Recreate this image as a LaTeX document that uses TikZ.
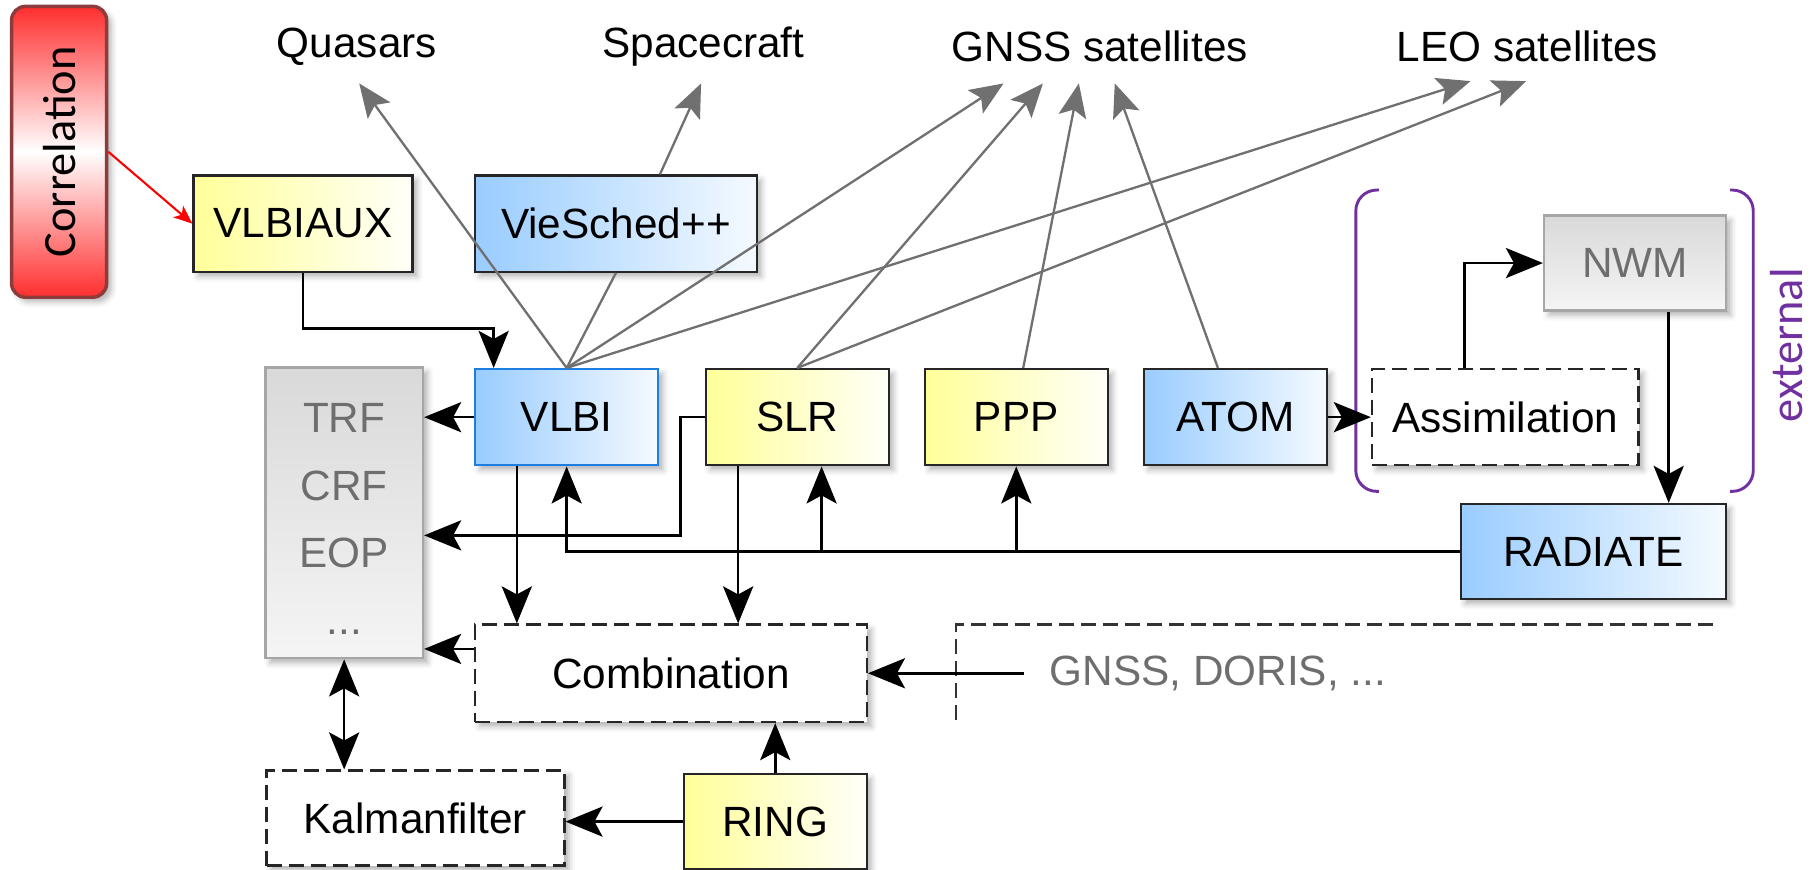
\documentclass[tikz,border=0pt]{standalone}
\usepackage{fontspec}
\setmainfont{Liberation Sans}
\newfontfamily\corrfont{Carlito}
\usetikzlibrary{arrows.meta,shadows.blur}
\definecolor{ylw}{HTML}{FFFF99}
\definecolor{blu}{HTML}{99CCFF}
\definecolor{vlbiedge}{HTML}{1E7DE0}
\definecolor{pur}{HTML}{7030A0}
\definecolor{raygray}{HTML}{707070}
\definecolor{txtgray}{HTML}{6E6E6E}
\definecolor{corrred}{HTML}{FF2E2E}
\definecolor{corredge}{HTML}{8E3B3B}
\tikzset{
 box/.style={draw=black!85,line width=2pt,minimum width=158pt,minimum height=83pt,inner sep=0pt,
  blur shadow={shadow xshift=4pt,shadow yshift=-4pt,shadow blur radius=5pt,shadow opacity=30}},
 ybox/.style={box,left color=ylw,right color=ylw!6},
 bbox/.style={box,left color=blu,right color=blu!10},
 gbox/.style={box,draw=gray!70,top color=gray!30,bottom color=gray!8,text=txtgray},
 dbox/.style={box,dash pattern=on 13pt off 6pt,fill=white},
 corrbox/.style={rotate=90,draw=corredge,line width=3pt,rounded corners=12pt,minimum width=251pt,minimum height=82pt,
  top color=corrred,bottom color=corrred,middle color=white,font=\corrfont\fontsize{40}{48}\selectfont,
  blur shadow={shadow xshift=4pt,shadow yshift=-4pt,shadow blur radius=5pt,shadow opacity=30}},
 link/.style={->,line width=2.2pt},
 ray/.style={-{Stealth[length=29pt,width=24pt,inset=6pt]},raygray,line width=2pt},
}
\begin{document}
\begin{tikzpicture}[x=1pt,y=-1pt,font=\fontsize{36.5}{42}\selectfont,>={Stealth[length=32pt,width=26pt,inset=7pt]}]
\useasboundingbox (0,0) rectangle (1568,750);
% targets
\node (quasars) at (308,40) {Quasars};
\node (craft) at (607,40) {Spacecraft};
\node (gnss) at (949,40) {GNSS satellites};
\node (leo) at (1318,40) {LEO satellites};
% modules
\node[corrbox] (corr) at (51,131) {Correlation};
\node[ybox,minimum width=189pt] (vlbiaux) at (261.5,193) {VLBIAUX};
\node[bbox,minimum width=243pt] (vs) at (531.5,193) {VieSched++};
\node[gbox,minimum width=136pt,minimum height=251pt,align=center,font=\fontsize{36.5}{58}\selectfont] (frames) at (297,442.5) {\rule{0pt}{36pt}TRF\\CRF\\EOP\\...};
\node[bbox,draw=vlbiedge] (vlbi) at (489,360) {VLBI};
\node[ybox] (slr) at (688,360) {SLR};
\node[ybox] (ppp) at (877,360) {PPP};
\node[bbox] (atom) at (1066,360) {ATOM};
\node[dbox,minimum width=230pt] (assim) at (1299,360) {Assimilation};
\node[gbox,minimum width=157pt,minimum height=82pt] (nwm) at (1411,227) {NWM};
\node[bbox,minimum width=229pt,minimum height=82pt] (radiate) at (1375,476) {RADIATE};
\node[dbox,minimum width=338pt,minimum height=84pt] (combo) at (579,581) {Combination};
\node[dbox,minimum width=257pt,minimum height=82pt] (kalman) at (358.5,706) {Kalmanfilter};
\node[ybox,minimum height=82pt] (ring) at (669,709) {RING};
\node[text=txtgray,inner xsep=22pt] (others) at (1051,581) {GNSS, DORIS, ...};
\node[rotate=90,text=pur,font=\corrfont\fontsize{40}{48}\selectfont] (ext) at (1542,298) {external};
% external bracket
\draw[pur,line width=2.5pt,rounded corners=18pt](1190,164)--(1170,164)--(1170,424)--(1190,424);
\draw[pur,line width=2.5pt,rounded corners=18pt](1493,164)--(1513,164)--(1513,424)--(1493,424);
\draw[black!80,line width=2pt,dash pattern=on 13pt off 6pt](825,621)--(825,539)--(1483,539);
% observations
\coordinate (qt) at (310,72); \coordinate (st) at (605,72);
\coordinate (g1) at (866,72); \coordinate (g2) at (900,72); \coordinate (g3) at (931,72); \coordinate (g4) at (962,72);
\coordinate (l1) at (1269,70); \coordinate (l2) at (1317,70);
\coordinate (vs1) at ([xshift=38pt]vs.north);
\coordinate (ppp1) at ([xshift=6pt]ppp.north);
\coordinate (atom1) at ([xshift=-15pt]atom.north);
\foreach \a/\b in {vlbi.north/qt,vs1/st,vlbi.north/g1,vlbi.north/l1,slr.north/g2,slr.north/l2,ppp1/g3,atom1/g4}{\draw[ray](\a)--(\b);}
\draw[raygray,line width=2pt](vs.south)--(vlbi.north);
\draw[red,line width=1.8pt,-{Stealth[length=16pt,width=13pt,inset=4pt]}](corr.south)--(vlbiaux.west);
% data flow
\draw[link](vlbiaux.south)--++(0,48)-|([xshift=-63pt]vlbi.north);
\draw[link](vlbi.west)--(vlbi.west-|frames.east);
\coordinate (eop) at ([yshift=-19.5pt]frames.east);
\draw[link](slr.west)--++(-21,0)|-(eop);
\draw[link](radiate.west)-|(vlbi.south);
\coordinate (s1) at ([xshift=21pt]slr.south);
\draw[link](s1|-radiate.west)--(s1);
\draw[link](ppp.south|-radiate.west)--(ppp.south);
\coordinate (v1) at ([xshift=-43pt]vlbi.south);
\draw[link](v1)--(v1|-combo.north);
\coordinate (s2) at ([xshift=-51pt]slr.south);
\draw[link](s2)--(s2|-combo.north);
\coordinate (c1) at ([yshift=21pt]combo.west);
\draw[link](c1)--(c1-|frames.east);
\draw[link,<->](frames.south)--(frames.south|-kalman.north);
\draw[link](ring.west)--(ring.west-|kalman.east);
\draw[link](ring.north)--(ring.north|-combo.south);
\draw[link](others.west)--(others.west-|combo.east);
\draw[link](atom.east)--(assim.west);
\coordinate (a1) at ([xshift=-35pt]assim.north);
\draw[link](a1)|-(nwm.west);
\coordinate (n1) at ([xshift=29pt]nwm.south);
\draw[link](n1)--(n1|-radiate.north);
\end{tikzpicture}
\end{document}
